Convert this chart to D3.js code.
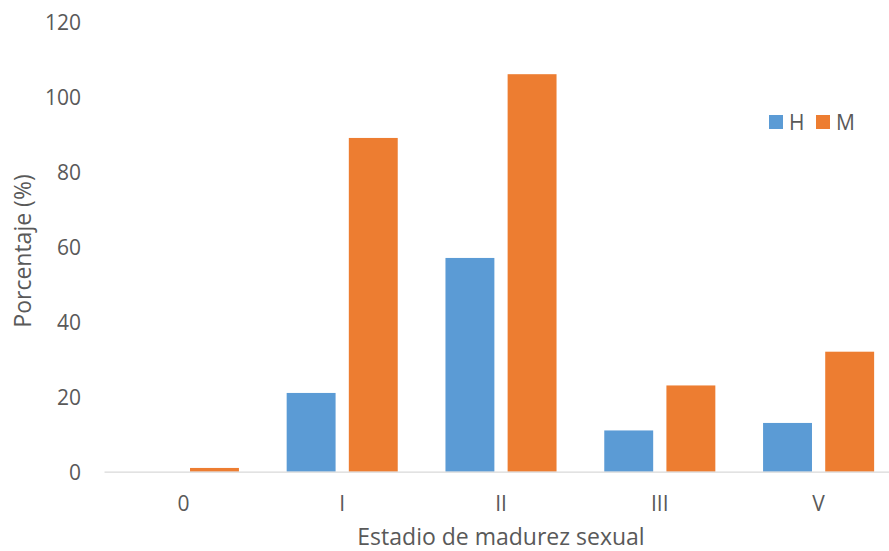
<!DOCTYPE html>
<html>
<head>
<meta charset="utf-8">
<script src="https://cdn.jsdelivr.net/npm/d3@7"></script>
<style>
  html, body { margin: 0; padding: 0; background: #fff; }
  svg { display: block; }
  text { font-family: "Open Sans", "Liberation Sans", sans-serif; fill: #595959; }
</style>
</head>
<body>
<svg id="chart" width="889" height="551"></svg>
<script>
// Sexual maturity stages and percentages by sex
const categories = ["0", "I", "II", "III", "V"];
const seriesNames = ["H", "M"];
const valuesH = [0, 21, 57, 11, 13];
const valuesM = [1, 89, 106, 23, 32];
const yTicks = [0, 20, 40, 60, 80, 100, 120];
const colors = { H: "#5B9BD5", M: "#ED7D31" };

const svg = d3.select("#chart");
const plot = { left: 104, right: 898, top: 21.7, bottom: 471.7 };

const x = d3.scaleBand()
  .domain(categories)
  .range([plot.left, plot.right])
  .paddingInner(0)
  .paddingOuter(0);

const xInner = d3.scaleBand()
  .domain(seriesNames)
  .range([0, x.bandwidth()])
  .paddingInner(0.213)
  .paddingOuter(0.384);

const y = d3.scaleLinear().domain([0, 120]).range([plot.bottom, plot.top]);

const rows = categories.map((c, i) => ({ cat: c, H: valuesH[i], M: valuesM[i] }));

// bars
const groups = svg.append("g").selectAll("g")
  .data(rows).join("g")
  .attr("transform", d => `translate(${x(d.cat)},0)`);

groups.selectAll("rect")
  .data(d => seriesNames.map(s => ({ s, v: d[s] })))
  .join("rect")
  .attr("x", d => xInner(d.s))
  .attr("width", xInner.bandwidth())
  .attr("y", d => y(d.v))
  .attr("height", d => y(0) - y(d.v))
  .attr("fill", d => colors[d.s]);

// x axis line and category labels
const xAxis = d3.axisBottom(x).tickSize(0);
const gx = svg.append("g").attr("transform", `translate(0,${plot.bottom})`).call(xAxis);
gx.select(".domain").attr("stroke", "#d9d9d9").attr("stroke-width", 1.3);
gx.selectAll("text")
  .attr("y", 39.3).attr("dy", null)
  .attr("font-size", 21).style("fill", "#595959")
  .attr("font-family", "'Open Sans', sans-serif");

// y axis labels (no line)
const yAxis = d3.axisLeft(y).tickValues(yTicks).tickSize(0).tickPadding(23);
const gy = svg.append("g").attr("transform", `translate(${plot.left},0)`).call(yAxis);
gy.select(".domain").remove();
gy.selectAll("text")
  .attr("dy", "0.36em")
  .attr("font-size", 21).style("fill", "#595959")
  .attr("font-family", "'Open Sans', sans-serif");

// axis titles
svg.append("text")
  .attr("x", 501).attr("y", 545)
  .attr("text-anchor", "middle")
  .attr("font-size", 23)
  .text("Estadio de madurez sexual");

svg.append("text")
  .attr("transform", "translate(31,251) rotate(-90)")
  .attr("text-anchor", "middle")
  .attr("font-size", 23)
  .text("Porcentaje (%)");

// legend
const legend = svg.append("g");
const legendX = [769, 816];
seriesNames.forEach((s, i) => {
  legend.append("rect")
    .attr("x", legendX[i]).attr("y", 115)
    .attr("width", 14).attr("height", 14)
    .attr("fill", colors[s]);
  legend.append("text")
    .attr("x", legendX[i] + 20).attr("y", 129.5)
    .attr("font-size", 21)
    .text(s);
});
</script>
</body>
</html>
